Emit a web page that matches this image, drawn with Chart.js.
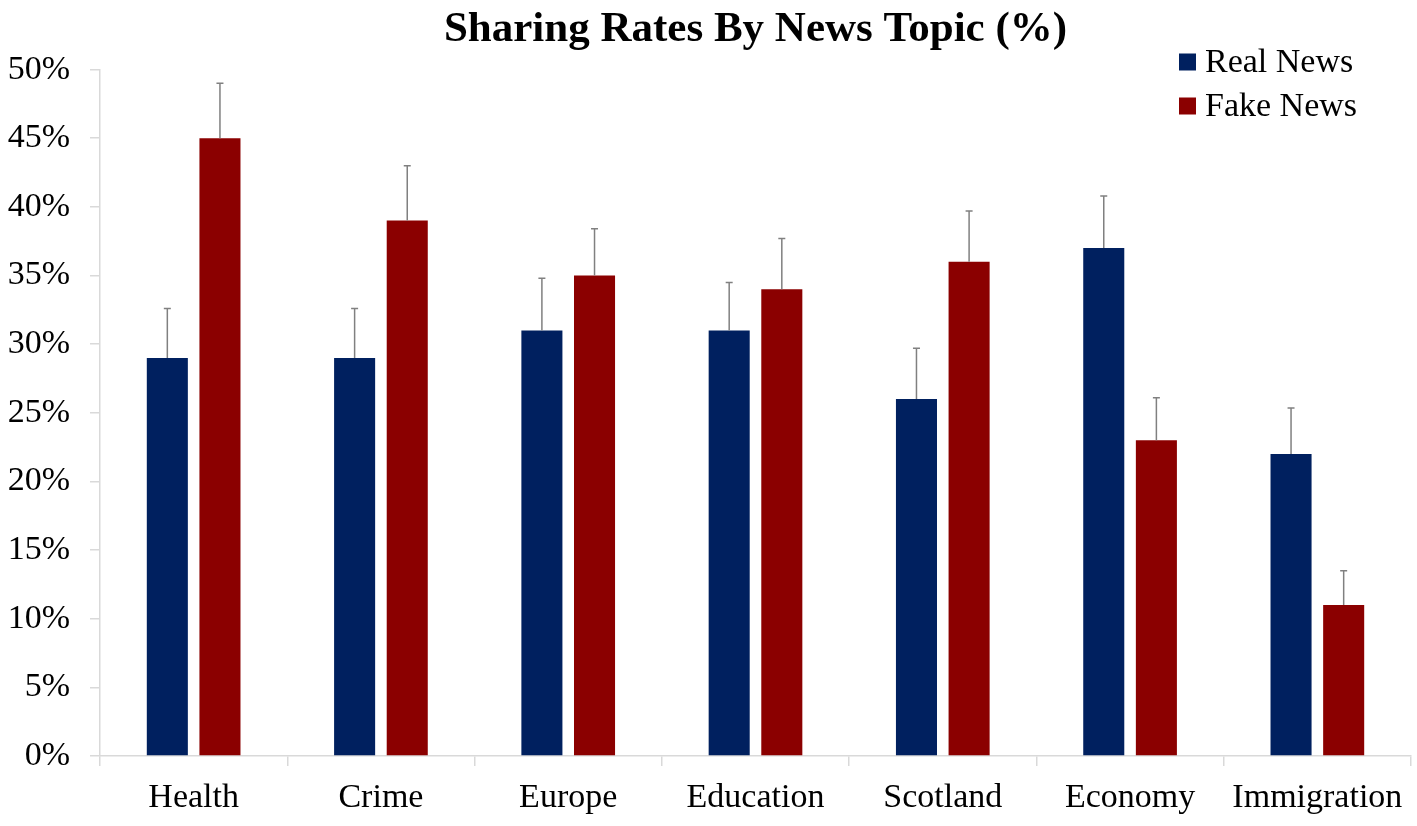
<!DOCTYPE html>
<html>
<head>
<meta charset="utf-8">
<script src="https://cdn.jsdelivr.net/npm/chart.js@4"></script>
<style>
html,body{margin:0;padding:0;background:#fff;}
#wrap{width:1417px;height:826px;position:relative;}
</style>
</head>
<body>
<div id="wrap"><canvas id="c"></canvas></div>
<script>
const titleText = 'Sharing Rates By News Topic (%)';
const categories = ['Health','Crime','Europe','Education','Scotland','Economy','Immigration'];
const seriesNames = ['Real News','Fake News'];
const realValues = [29, 29, 31, 31, 26, 37, 22];
const fakeValues = [45, 39, 35, 34, 36, 23, 11];
const realErrors = [3.6, 3.6, 3.8, 3.5, 3.7, 3.8, 3.35];
const fakeErrors = [4.0, 4.0, 3.4, 3.7, 3.7, 3.1, 2.5];
const yTicks = [0, 5, 10, 15, 20, 25, 30, 35, 40, 45, 50];

const SERIF = "'Liberation Serif','Times New Roman',serif";
const REAL_COLOR = '#00205f';
const FAKE_COLOR = '#8b0000';
const AXIS_COLOR = '#d9d9d9';

const errorBarPlugin = {
  id: 'errorBars',
  afterDatasetsDraw(chart) {
    const ctx = chart.ctx;
    const y = chart.scales.y;
    chart.data.datasets.forEach((ds, di) => {
      const meta = chart.getDatasetMeta(di);
      meta.data.forEach((bar, i) => {
        const v = ds.data[i];
        const e = ds.errors[i];
        const yTop = y.getPixelForValue(v + e);
        const yBase = y.getPixelForValue(v);
        ctx.save();
        ctx.strokeStyle = '#808080';
        ctx.lineWidth = 1.5;
        ctx.beginPath();
        ctx.moveTo(bar.x, yBase);
        ctx.lineTo(bar.x, yTop);
        ctx.moveTo(bar.x - 3.5, yTop);
        ctx.lineTo(bar.x + 3.5, yTop);
        ctx.stroke();
        ctx.restore();
      });
    });
  }
};

const customLegend = {
  id: 'customLegend',
  afterDraw(chart) {
    const ctx = chart.ctx;
    ctx.save();
    ctx.font = '34px ' + SERIF;
    ctx.textBaseline = 'middle';
    chart.data.datasets.forEach((ds, i) => {
      const cy = 62 + i * 44;
      ctx.fillStyle = ds.backgroundColor;
      ctx.fillRect(1179, cy - 8.5, 17, 17);
      ctx.fillStyle = '#000';
      ctx.fillText(ds.label, 1205, cy + 1);
    });
    ctx.restore();
  }
};

new Chart(document.getElementById('c'), {
  type: 'bar',
  data: {
    labels: categories,
    datasets: [
      { label: seriesNames[0], data: realValues, errors: realErrors, backgroundColor: REAL_COLOR,
        categoryPercentage: 0.562, barPercentage: 0.78 },
      { label: seriesNames[1], data: fakeValues, errors: fakeErrors, backgroundColor: FAKE_COLOR,
        categoryPercentage: 0.562, barPercentage: 0.78 }
    ]
  },
  options: {
    responsive: true,
    maintainAspectRatio: false,
    animation: false,
    devicePixelRatio: 1,
    layout: { padding: { left: 8, right: 6, top: 0, bottom: 0 } },
    plugins: {
      legend: { display: false },
      tooltip: { enabled: false },
      title: {
        display: true,
        text: titleText,
        fullSize: false,
        color: '#000',
        font: { family: SERIF, size: 43, weight: 'bold' },
        padding: { top: 4, bottom: 14 }
      }
    },
    scales: {
      x: {
        afterFit(axis) { axis.height = 70; },
        grid: { display: true, drawOnChartArea: false, drawTicks: true, tickLength: 10, color: AXIS_COLOR, lineWidth: 1.5 },
        border: { display: true, color: AXIS_COLOR, width: 1.5 },
        ticks: { color: '#000', font: { family: SERIF, size: 34 }, padding: 12, maxRotation: 0, autoSkip: false }
      },
      y: {
        min: 0, max: 50,
        afterBuildTicks(axis) { axis.ticks = yTicks.map(v => ({ value: v })); },
        afterFit(axis) { axis.width = 92; },
        grid: { display: true, drawOnChartArea: false, drawTicks: true, tickLength: 10, color: AXIS_COLOR, lineWidth: 1.5 },
        border: { display: true, color: AXIS_COLOR, width: 1.5 },
        ticks: { color: '#000', font: { family: SERIF, size: 34 }, padding: 20, callback: v => v + '%' }
      }
    }
  },
  plugins: [errorBarPlugin, customLegend]
});
</script>
</body>
</html>
